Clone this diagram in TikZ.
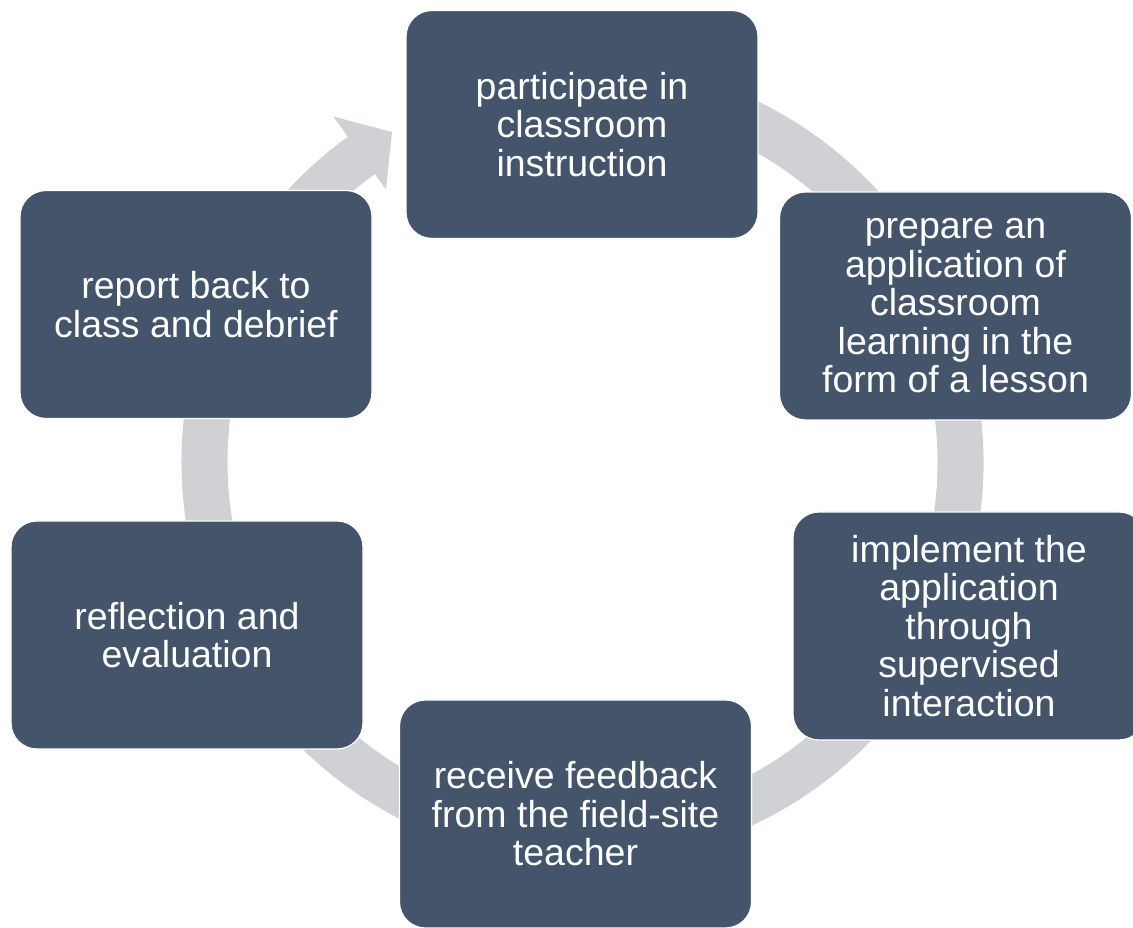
\documentclass[tikz,border=0pt]{standalone}
\usepackage{fontspec}
\setmainfont{Liberation Sans}
\definecolor{boxfill}{HTML}{44546A}
\definecolor{ringgray}{HTML}{CFD1D5}
\begin{document}
\begin{tikzpicture}[x=1pt,y=1pt,
  stage/.style={draw=white, line width=1.2pt, fill=boxfill, rounded corners=26pt,
    minimum width=352pt, minimum height=228pt, inner sep=0pt,
    text=white, align=center,
    font=\fontsize{37.5}{38.5}\selectfont}]
\useasboundingbox (0,0) rectangle (1133,928);

% cycle ring with its arrowhead, behind the stages
\begin{scope}[shift={(582.5,466)}]
  \draw[ringgray, line width=46pt, line cap=butt]
    (100:378) arc[start angle=100, end angle=-235.5, radius=378pt];
  \fill[ringgray] (125.8:336) -- (125.8:426) -- (120:381) -- cycle;
\end{scope}

% stages of the cycle
\node[stage] (instr)   at (582,803.5) {participate in\\classroom\\instruction};
\node[stage] (prep)    at (955.5,622) {prepare an\\application of\\classroom\\learning in the\\form of a lesson};
\node[stage] (impl)    at (969,302)   {implement the\\application\\through\\supervised\\interaction};
\node[stage] (feed)    at (575.5,114) {receive feedback\\from the field-site\\teacher};
\node[stage] (reflect) at (187,293)   {reflection and\\evaluation};
\node[stage] (report)  at (196,623.5) {report back to\\class and debrief};
\end{tikzpicture}
\end{document}
